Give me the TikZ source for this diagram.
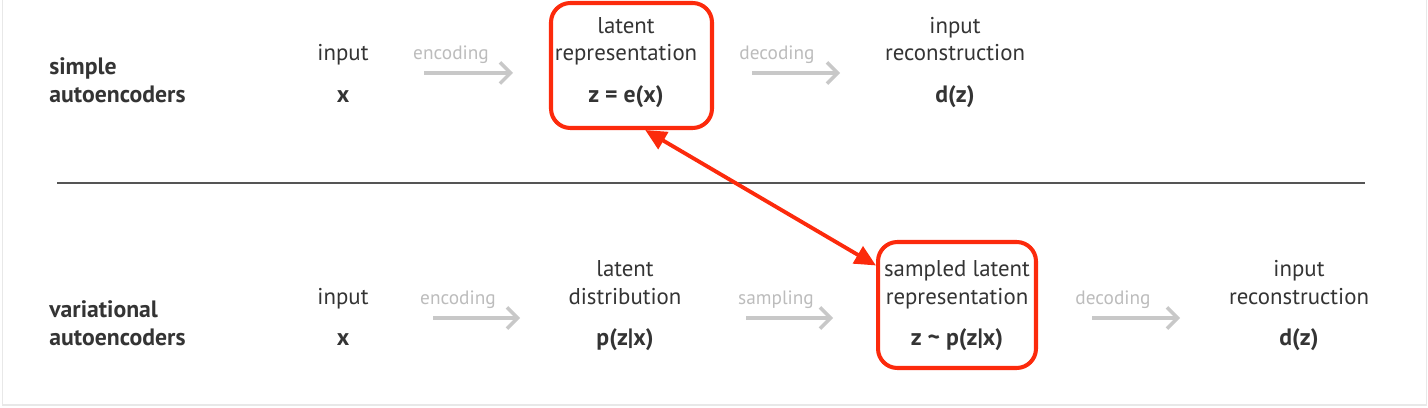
\documentclass[tikz,border=0pt]{standalone}
\usepackage{fontspec}
\setmainfont{PT Sans}
\usetikzlibrary{arrows.meta}
\definecolor{hlred}{RGB}{252,42,12}
\definecolor{txtgray}{RGB}{52,52,52}
\definecolor{arrgray}{RGB}{200,200,200}
\definecolor{lblgray}{RGB}{188,188,188}
\definecolor{framegray}{RGB}{232,232,232}
\definecolor{rulegray}{RGB}{85,85,85}

\begin{document}
\begin{tikzpicture}[x=0.02cm, y=-0.02cm,
  txt/.style={anchor=base, inner sep=0pt, text=txtgray, font=\fontsize{13}{15}\selectfont},
  var/.style={txt, font=\fontsize{13.5}{15}\selectfont\bfseries},
  head/.style={var, anchor=base west},
  steplbl/.style={anchor=base, inner sep=0pt, text=lblgray, font=\fontsize{11}{13}\selectfont},
  flow/.style={draw=arrgray, line width=2pt, -{Straight Barb[length=6pt, width=12pt]}},
  redbox/.style={draw=hlred, line width=2.3pt, rounded corners=11pt},
  link/.style={draw=hlred, line width=2.2pt, {Triangle[length=12pt, width=11pt]}-{Triangle[length=12pt, width=11pt]}}]
  \newcommand\ya{34}
  \newcommand\yb{61}
  \newcommand\yc{103}
  \newcommand\yd{277}
  \newcommand\ye{305}
  \newcommand\yf{346}
  \useasboundingbox (0,0) rectangle (1428,408);
  \draw[framegray, line width=0.8pt] (2.5,0) -- (2.5,405) -- (1426.5,405) -- (1426.5,0);

  % simple autoencoders
  \node[head] (simA) at (49,75) {simple};
  \node[head] (simB) at (49,\yc) {autoencoders};
  \node[txt] (inA) at (343,\yb) {input};
  \node[var] (xA) at (343,\yc) {x};
  \node[steplbl] (encA) at (451,60) {encoding};
  \coordinate (encAs) at (424,73);
  \coordinate (encAe) at (513,73);
  \draw[flow] (encAs) -- (encAe);
  \node[redbox, minimum width=3.22cm, minimum height=2.5cm] (latbox) at (631.5,65.5) {};
  \node[txt] (latA) at (626,\ya) {latent};
  \node[txt] (repA) at (626,\yb) {representation};
  \node[var] (zA) at (626,\yc) {z = e(x)};
  \node[steplbl] (decA) at (777,60) {decoding};
  \coordinate (decAs) at (752,73);
  \coordinate (decAe) at (840,73);
  \draw[flow] (decAs) -- (decAe);
  \node[txt] (inrA) at (955,\ya) {input};
  \node[txt] (recA) at (955,\yb) {reconstruction};
  \node[var] (dA) at (955,\yc) {d(z)};

  \draw[rulegray, line width=0.8pt] (57,183) -- (1365,183);

  % variational autoencoders
  \node[head] (varB) at (49,318) {variational};
  \node[head] (autB) at (49,\yf) {autoencoders};
  \node[txt] (inB) at (343,\ye) {input};
  \node[var] (xB) at (343,\yf) {x};
  \node[steplbl] (encB) at (458,305) {encoding};
  \coordinate (encBs) at (433,318);
  \coordinate (encBe) at (520,318);
  \draw[flow] (encBs) -- (encBe);
  \node[txt] (latB) at (625,\yd) {latent};
  \node[txt] (disB) at (625,\ye) {distribution};
  \node[var] (pB) at (625,\yf) {p(z|x)};
  \node[steplbl] (smpB) at (776,305) {sampling};
  \coordinate (smpBs) at (746,318);
  \coordinate (smpBe) at (833,318);
  \draw[flow] (smpBs) -- (smpBe);
  \node[redbox, minimum width=3.16cm, minimum height=2.52cm] (smpbox) at (957,305) {};
  \node[txt] (slatB) at (957,\yd) {sampled latent};
  \node[txt] (repB) at (957,\ye) {representation};
  \node[var] (zB) at (957,\yf) {z \textasciitilde\ p(z|x)};
  \node[steplbl] (decB) at (1113,305) {decoding};
  \coordinate (decBs) at (1092,318);
  \coordinate (decBe) at (1180,318);
  \draw[flow] (decBs) -- (decBe);
  \node[txt] (inrB) at (1299,\yd) {input};
  \node[txt] (recB) at (1299,\ye) {reconstruction};
  \node[var] (dB) at (1299,\yf) {d(z)};

  \draw[link] (latbox.282) -- (smpbox.154);
\end{tikzpicture}
\end{document}
